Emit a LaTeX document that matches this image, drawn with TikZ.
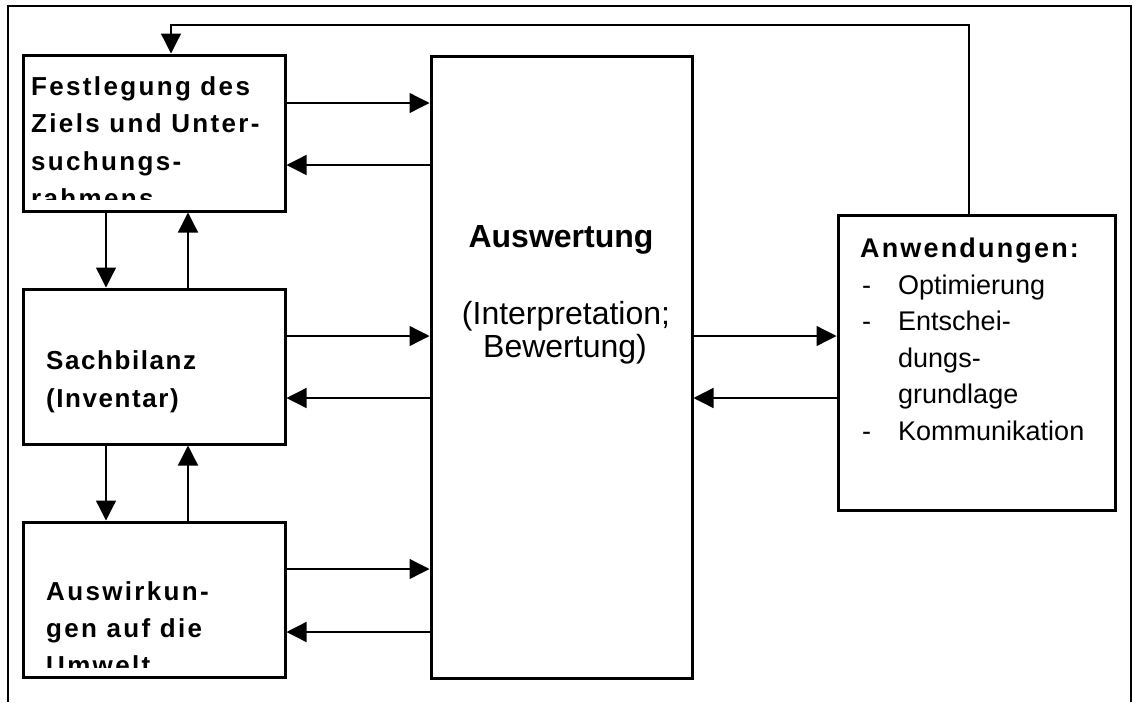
\documentclass[tikz,border=0pt]{standalone}
\usepackage{fontspec}
\setmainfont{Liberation Sans}
\newfontfamily\lspA[LetterSpace=9]{Liberation Sans}
\newfontfamily\lspB[LetterSpace=6]{Liberation Sans}
\newfontfamily\lspC[LetterSpace=8]{Liberation Sans}
\usetikzlibrary{arrows.meta}
\begin{document}
\begin{tikzpicture}[x=1pt,y=-1pt,
  box/.style={draw, line width=3pt, inner sep=0pt},
  arr/.style={line width=1.3pt, -{Triangle[length=20pt,width=20pt]}},
  bhead/.style={inner sep=0pt, anchor=base west, font={\lspA\bfseries\fontsize{26pt}{30pt}\selectfont}},
  bheadB/.style={inner sep=0pt, anchor=base west, font={\lspB\bfseries\fontsize{26pt}{30pt}\selectfont}},
  bheadC/.style={inner sep=0pt, anchor=base west, font={\lspC\bfseries\fontsize{27pt}{30pt}\selectfont}},
  reg/.style={inner sep=0pt, anchor=base west, font={\fontsize{27pt}{32pt}\selectfont}},
  big/.style={inner sep=0pt, anchor=base, font={\fontsize{32pt}{34pt}\selectfont}}]
\useasboundingbox (0,0) rectangle (1133,702);
% outer frame
\draw[line width=1.3pt] (8,702) -- (8,6);
\draw[line width=2pt] (7.4,6) -- (1131,6) -- (1131,702);
% boxes
\node[box, minimum width=262, minimum height=156] (b1) at (154,133) {};
\node[box, minimum width=262, minimum height=155] (b2) at (154,366.5) {};
\node[box, minimum width=262, minimum height=155] (b3) at (154,599.5) {};
\node[box, minimum width=261, minimum height=622] (ausw) at (561.5,367) {};
\node[box, minimum width=277, minimum height=295] (anw) at (976.5,362.5) {};
% texts box 1 (clipped)
\begin{scope}
\clip (24,56) rectangle (284,199);
\node[bhead] (t1a) at (31,95) {Festlegung des};
\node[bhead] (t1b) at (31,132.5) {Ziels und Unter-};
\node[bhead] (t1c) at (31,170) {suchungs-};
\node[bhead] (t1d) at (31,207.5) {rahmens};
\end{scope}
% box 2
\node[bheadB] (t2a) at (46,369) {Sachbilanz};
\node[bheadB] (t2b) at (46,407) {(Inventar)};
% box 3 (clipped)
\begin{scope}
\clip (24,523) rectangle (284,667);
\node[bhead] (t3a) at (46,600) {Auswirkun-};
\node[bhead] (t3b) at (46,637) {gen auf die};
\node[bhead] (t3c) at (46,674) {Umwelt};
\end{scope}
% Auswertung
\node[big, font={\bfseries\fontsize{32pt}{34pt}\selectfont}] (t4a) at (561,247) {Auswertung};
\node[big] (t4b) at (566,324) {(Interpretation;};
\node[big] (t4c) at (565,357) {Bewertung)};
% Anwendungen
\node[bheadC] (t5a) at (860,257) {Anwendungen:};
\node[reg] (d1) at (862,294) {-};
\node[reg] (i1) at (898,294) {Optimierung};
\node[reg] (d2) at (862,330.5) {-};
\node[reg] (i2) at (898,330.5) {Entschei-};
\node[reg] (i3) at (898,367) {dungs-};
\node[reg] (i4) at (898,403.5) {grundlage};
\node[reg] (d3) at (862,440) {-};
\node[reg] (i5) at (898,440) {Kommunikation};
% horizontal connectors
\draw[arr] (b1.east |- 0,103) -- (ausw.west |- 0,103);
\draw[arr] (ausw.west |- 0,165) -- (b1.east |- 0,165);
\draw[arr] (b2.east |- 0,336) -- (ausw.west |- 0,336);
\draw[arr] (ausw.west |- 0,398) -- (b2.east |- 0,398);
\draw[arr] (b3.east |- 0,569) -- (ausw.west |- 0,569);
\draw[arr] (ausw.west |- 0,632) -- (b3.east |- 0,632);
\draw[arr] (ausw.east |- 0,336) -- (anw.west |- 0,336);
\draw[arr] (anw.west |- 0,398) -- (ausw.east |- 0,398);
% vertical connectors
\draw[arr] (b1.south -| 106,0) -- (b2.north -| 106,0);
\draw[arr] (b2.north -| 188,0) -- (b1.south -| 188,0);
\draw[arr] (b2.south -| 106,0) -- (b3.north -| 106,0);
\draw[arr] (b3.north -| 188,0) -- (b2.south -| 188,0);
% feedback
\coordinate (fb) at (171,25);
\draw[arr] (anw.north -| 969,0) |- (fb) -- (b1.north -| fb);
\end{tikzpicture}
\end{document}
